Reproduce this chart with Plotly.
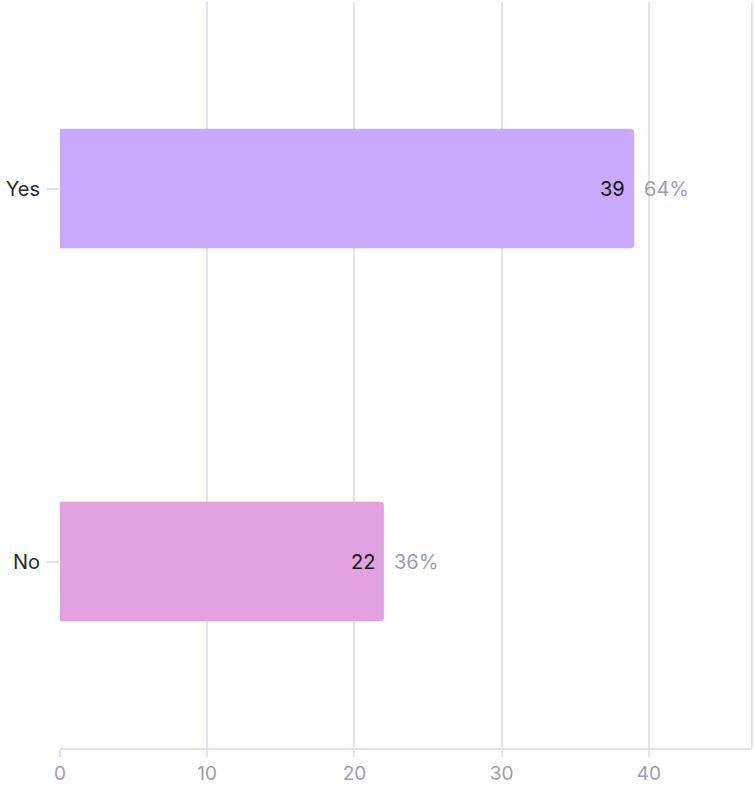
import plotly.graph_objects as go

categories = ["Yes", "No"]
counts = [39, 22]
percents = ["64%", "36%"]
colors = ["#c8a9fe", "#e2a2e2"]

FONT = "Inter"

fig = go.Figure()
fig.add_trace(go.Bar(
    y=categories, x=counts, orientation="h",
    marker=dict(color=colors, line=dict(width=0), cornerradius=4),
    width=0.32, hoverinfo="skip",
))

for c, v, p in zip(categories, counts, percents):
    fig.add_annotation(x=v, y=c, text=str(v), showarrow=False, xanchor="right",
                       xshift=-7, font=dict(family=FONT, size=20, color="#111111"))
    fig.add_annotation(x=v, y=c, text=p, showarrow=False, xanchor="left",
                       xshift=8, font=dict(family=FONT, size=20, color="#9d9db1"))

fig.add_shape(type="line", xref="paper", yref="paper", x0=1, x1=1, y0=0, y1=1,
              line=dict(color="#e2e1ec", width=2), layer="below")

fig.update_layout(
    width=754, height=786,
    margin=dict(l=60, r=2, t=2, b=38, autoexpand=False),
    paper_bgcolor="white", plot_bgcolor="white",
    showlegend=False,
    font=dict(family=FONT),
    xaxis=dict(range=[0, 47], tickvals=[0, 10, 20, 30, 40], showgrid=True,
               gridcolor="#e2e1ec", gridwidth=2, zeroline=False, automargin=False,
               showline=True, linecolor="#e2e1ec", linewidth=2,
               ticks="outside", ticklen=7, tickcolor="#e2e1ec", tickwidth=2,
               tickfont=dict(family=FONT, size=19, color="#9d9db1")),
    yaxis=dict(categoryorder="array", categoryarray=["No", "Yes"], automargin=False,
               range=[-0.5, 1.5], showgrid=False, zeroline=False,
               showline=False, ticks="outside", ticklen=12, tickcolor="#e2e1ec",
               tickwidth=2, ticklabelstandoff=3,
               tickfont=dict(family=FONT, size=20, color="#2a2a2a")),
)

fig.write_html("out.html", config={"displayModeBar": False},
               post_script="document.body.style.margin='0';")
